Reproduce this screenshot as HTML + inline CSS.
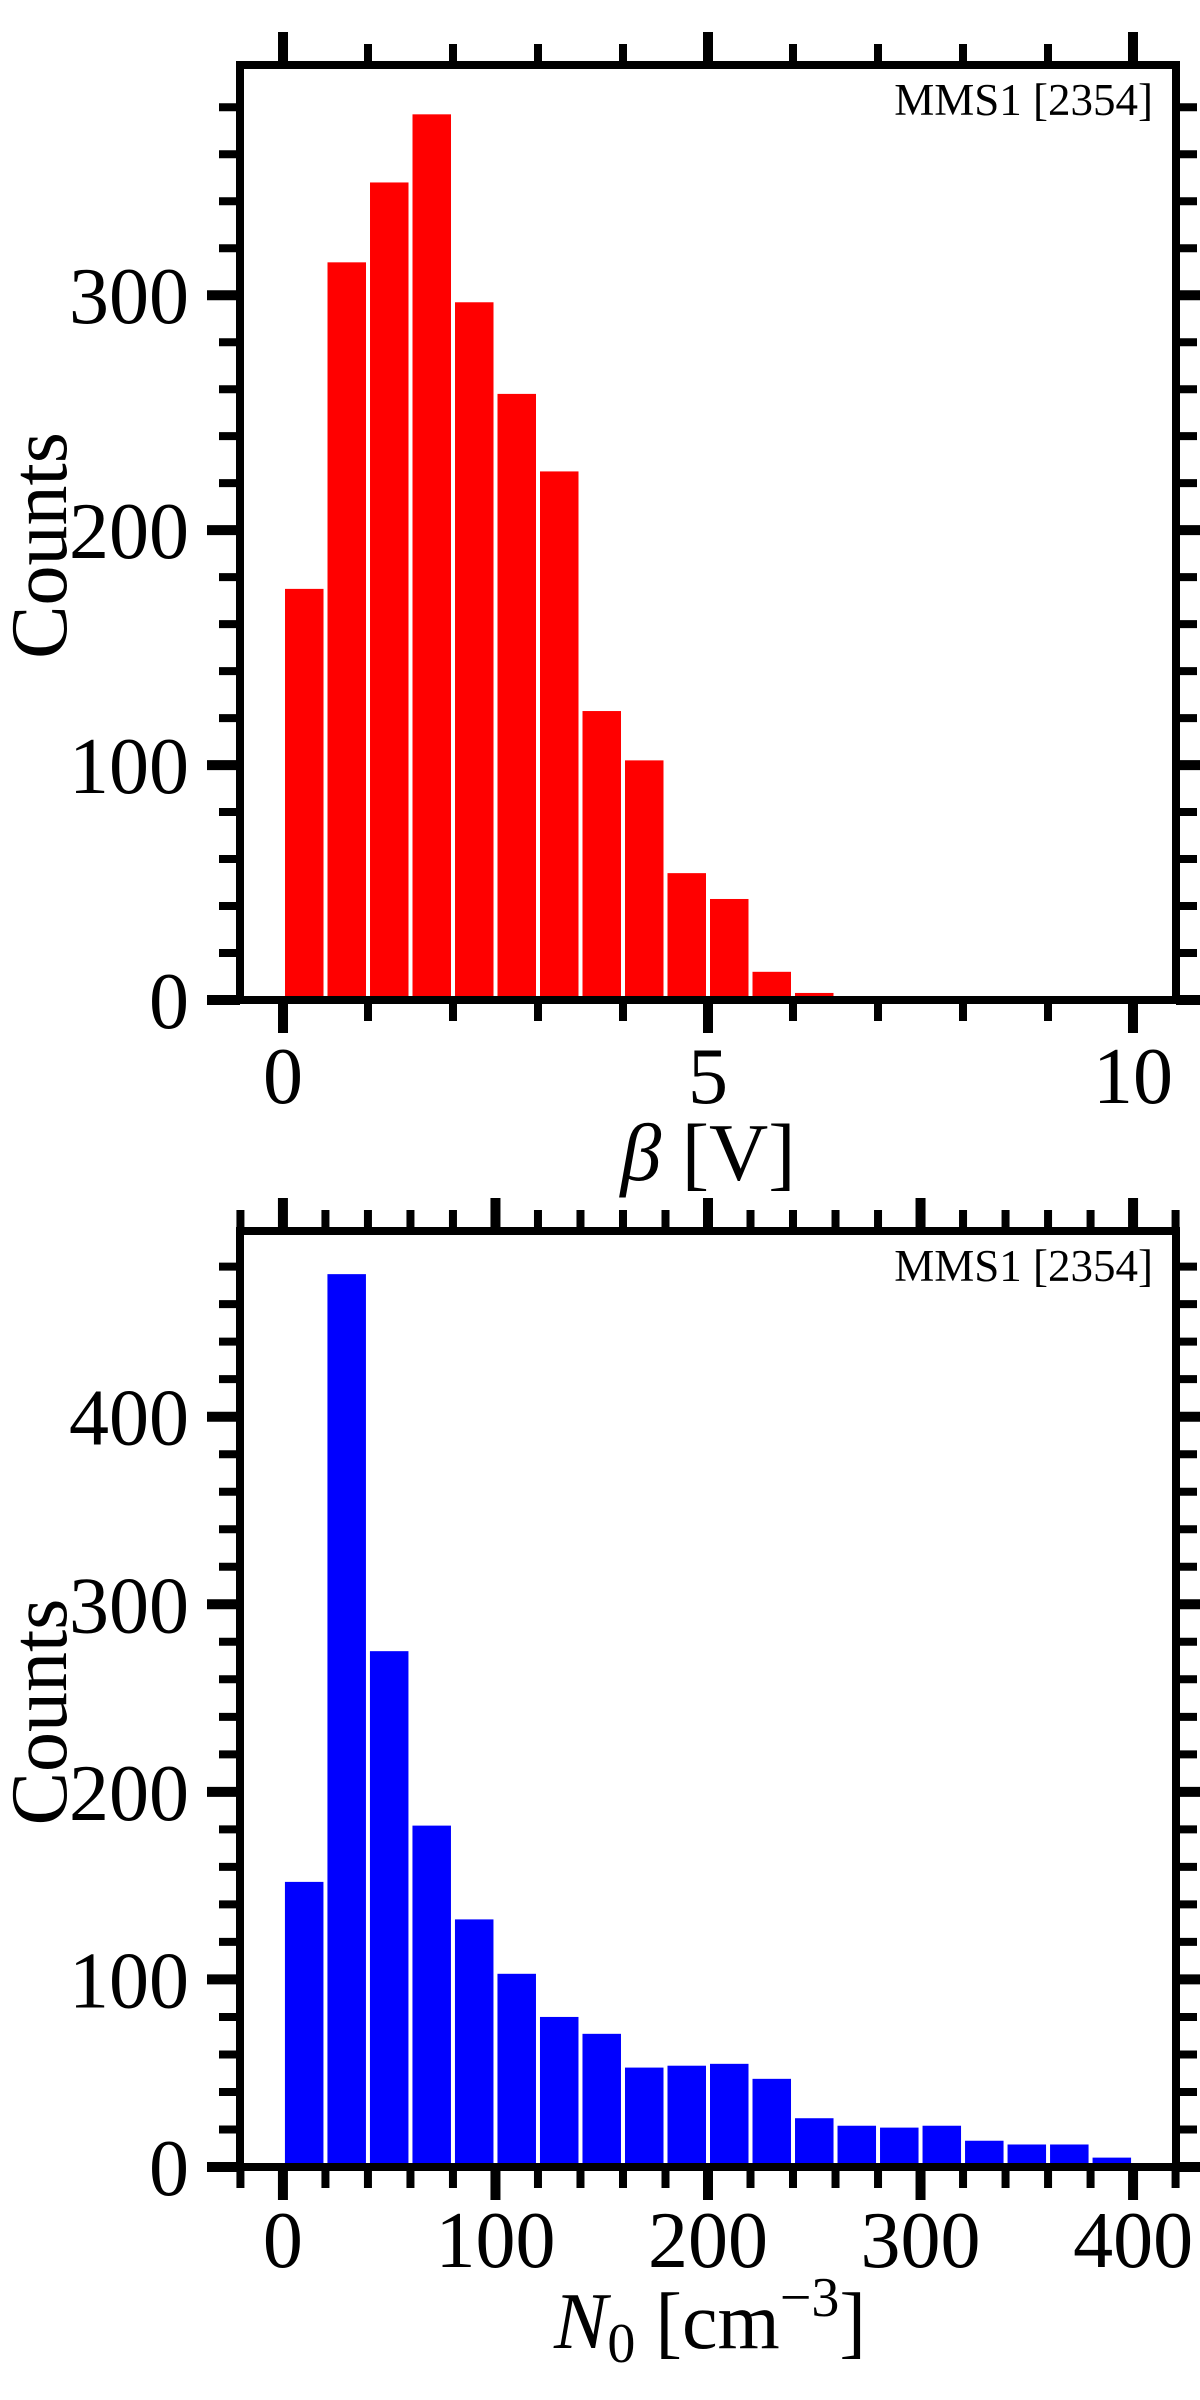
<!DOCTYPE html>
<html><head><meta charset="utf-8"><style>
html,body{margin:0;padding:0;background:#fff;}
svg text{font-family:"Liberation Serif",serif;fill:#000;}
</style></head>
<body>
<svg id="chart" width="1200" height="2400" xmlns="http://www.w3.org/2000/svg" style="position:absolute;left:0;top:0"></svg>
<script>
// Panel 1 data: beta [V], bin width 0.5
const betaBinStarts = [0,0.5,1,1.5,2,2.5,3,3.5,4,4.5,5,5.5,6,6.5,7,7.5,8,8.5,9,9.5];
const betaCounts = [175,314,348,377,297,258,225,123,102,54,43,12,3,1,0,0,0,0,0,0];
const betaXTicks = [0,5,10];
const betaYTicks = [0,100,200,300];
// Panel 2 data: N0 [cm^-3], bin width 20
const n0BinStarts = [0,20,40,60,80,100,120,140,160,180,200,220,240,260,280,300,320,340,360,380];
const n0Counts = [152,476,275,182,132,103,80,71,53,54,55,47,26,22,21,22,14,12,12,5];
const n0XTicks = [0,100,200,300,400];
const n0YTicks = [0,100,200,300,400];

const NS = "http://www.w3.org/2000/svg";
const svg = document.getElementById('chart');
function mk(tag, attrs, parent){const e=document.createElementNS(NS,tag);for(const k in attrs)e.setAttribute(k,attrs[k]);(parent||svg).appendChild(e);return e;}

function panel(cfg){
  const g = mk('g',{});
  
  
  const L=240,R=1176,T=cfg.top,B=cfg.bottom;
  const xs = v => L + (v - cfg.xmin)/(cfg.xmax-cfg.xmin)*(R-L);
  const ys = v => B - v/cfg.ymax*(B-T);
  cfg.starts.forEach((s,i)=>{
    const c = cfg.counts[i]; if(c<=0) return;
    const x0 = xs(s), x1 = xs(s+cfg.bw);
    const r = mk('rect',{x:x0+2,y:ys(c),width:x1-x0-4,height:B-ys(c),fill:cfg.color},g);
    
    
  });
  const tg = mk('g',{stroke:'#000'},g);
  for(let k=0; ; k++){
    const v = cfg.xminTick + k*cfg.xminor; if(v>cfg.xmaxTick+1e-9) break;
    const x=xs(v); const major = cfg.xticks.some(t=>Math.abs(t-v)<1e-9);
    const len = major?33:21, w = major?10:8;
    mk('line',{x1:x,x2:x,y1:B,y2:B+len,'stroke-width':w},tg);
    mk('line',{x1:x,x2:x,y1:T,y2:T-len,'stroke-width':w},tg);
  }
  for(let v=0; v<=cfg.ymax; v+=cfg.yminor){
    const y=ys(v); const major = cfg.yticks.includes(v);
    const len = major?33:21, w = major?10:8;
    mk('line',{x1:L,x2:L-len,y1:y,y2:y,'stroke-width':w},tg);
    mk('line',{x1:R,x2:R+len,y1:y,y2:y,'stroke-width':w},tg);
  }
  const f = mk('rect',{x:L,y:T,width:R-L,height:B-T,fill:'none',stroke:'#000','stroke-width':8},g);
  
  
  cfg.xticks.forEach(t=>{
    const e = mk('text',{x:xs(t),y:cfg.xlabY,'text-anchor':'middle','font-size':80},g);
    e.textContent = t;
    
    
  });
  cfg.yticks.forEach(t=>{
    const e = mk('text',{x:189,y:ys(t)+28,'text-anchor':'end','font-size':80},g);
    e.textContent = t;
    
    
  });
  const yt = mk('text',{x:0,y:0,'text-anchor':'middle','font-size':80,transform:`translate(66,${(T+B)/2+13}) rotate(-90)`},g);
  yt.textContent='Counts';
  
  
  const an = mk('text',{x:1153,y:T+50,'text-anchor':'end','font-size':45},g);
  an.textContent='MMS1 [2354]';
  
  
  return g;
}

panel({name:'beta-histogram',top:65,bottom:1000,xmin:-0.506,xmax:10.506,ymax:398,
  starts:betaBinStarts,counts:betaCounts,bw:0.5,color:'#ff0000',
  xticks:betaXTicks,yticks:betaYTicks,xminor:1,yminor:20,xminTick:0,xmaxTick:10,
  xlabY:1103});
panel({name:'n0-histogram',top:1231,bottom:2167,xmin:-20.2,xmax:420.2,ymax:499,
  starts:n0BinStarts,counts:n0Counts,bw:20,color:'#0000ff',
  xticks:n0XTicks,yticks:n0YTicks,xminor:20,yminor:20,xminTick:-20,xmaxTick:420,
  xlabY:2267});
</script>
<svg style="position:absolute;left:0;top:0" width="1200" height="2400">
  <text x="708" y="1180" text-anchor="middle" font-size="82" font-family="Liberation Serif, serif"><tspan font-style="italic">β</tspan> [V]</text>
  <text x="710" y="2348" text-anchor="middle" font-size="80" font-family="Liberation Serif, serif"><tspan font-style="italic">N</tspan><tspan font-size="56" dy="14">0</tspan><tspan dy="-14"> [cm</tspan><tspan font-size="56" dy="-32">−3</tspan><tspan dy="32">]</tspan></text>
</svg>
</body></html>
